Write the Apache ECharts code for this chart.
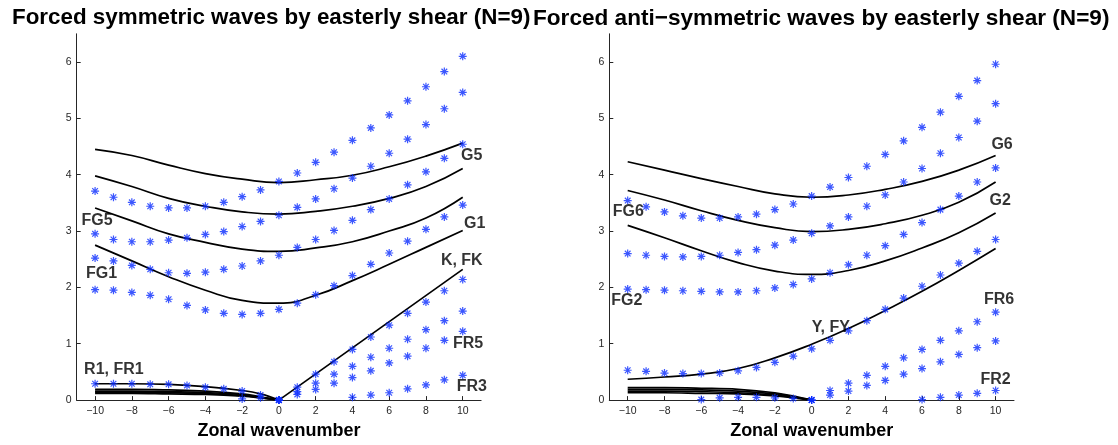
<!DOCTYPE html>
<html>
<head>
<meta charset="utf-8">
<script src="https://cdn.jsdelivr.net/npm/echarts@6/dist/echarts.min.js"></script>
<style>
html,body{margin:0;padding:0;background:#fff;}
#chart{width:1118px;height:445px;}
</style>
</head>
<body>
<div id="chart"></div>
<script>
// ---------- data ----------
const TITLE_LEFT = 'Forced symmetric waves by easterly shear (N=9)';
const TITLE_RIGHT = 'Forced anti\u2212symmetric waves by easterly shear (N=9)';
const X_NAME = 'Zonal wavenumber';
const X_TICKS = [-10, -8, -6, -4, -2, 0, 2, 4, 6, 8, 10];
const Y_TICKS = [0, 1, 2, 3, 4, 5, 6];

// wavenumbers for the forced (asterisk) solutions
const K_ALL = [-10, -9, -8, -7, -6, -5, -4, -3, -2, -1, 0, 1, 2, 3, 4, 5, 6, 7, 8, 9, 10];
const K_NEG = [-10, -9, -8, -7, -6, -5, -4, -3, -2, -1, 0];
const K_POS = [0, 1, 2, 3, 4, 5, 6, 7, 8, 9, 10];
// wavenumbers for the free-wave curves
const K_CURVE = [-10, -8, -6, -4, -2, 0, 2, 4, 6, 8, 10];
const K_ROSSBY = [-10, -8, -6, -4, -2, -1, 0];
const K_KELVIN = [0, 10];

// symmetric panel: forced solutions
const symA = [3.71, 3.60, 3.51, 3.44, 3.41, 3.41, 3.44, 3.51, 3.61, 3.73, 3.88, 4.03, 4.22, 4.40, 4.61, 4.83, 5.06, 5.31, 5.56, 5.83, 6.10];
const symB = [2.95, 2.85, 2.81, 2.81, 2.84, 2.88, 2.94, 2.99, 3.08, 3.17, 3.28, 3.42, 3.57, 3.75, 3.94, 4.15, 4.38, 4.63, 4.89, 5.17, 5.46];
const symC = [2.52, 2.47, 2.39, 2.32, 2.26, 2.25, 2.27, 2.32, 2.38, 2.47, 2.57, 2.71, 2.85, 3.01, 3.19, 3.38, 3.57, 3.82, 4.05, 4.29, 4.54];
const symD = [1.96, 1.95, 1.91, 1.86, 1.79, 1.68, 1.60, 1.54, 1.52, 1.54, 1.61, 1.72, 1.87, 2.03, 2.21, 2.41, 2.61, 2.82, 3.03, 3.25, 3.46];
const symR1 = [0.29, 0.29, 0.29, 0.28, 0.28, 0.26, 0.23, 0.20, 0.16, 0.09, 0.00];
const symR2 = [null, null, null, null, null, null, null, null, 0.02, 0.04, 0.00];
const symK = [0.00, 0.23, 0.46, 0.68, 0.90, 1.12, 1.33, 1.54, 1.74, 1.94, 2.14];
const symFR5a = [0.00, 0.15, 0.30, 0.46, 0.60, 0.76, 0.92, 1.08, 1.25, 1.41, 1.58];
const symFR5b = [0.00, 0.10, 0.19, 0.30, 0.40, 0.52, 0.66, 0.78, 0.92, 1.06, 1.22];
const symFR3 = [null, null, null, null, 0.05, 0.09, 0.13, 0.20, 0.27, 0.36, 0.44];

// symmetric panel: free-wave curves
const symG5 = [4.45, 4.34, 4.17, 4.02, 3.92, 3.86, 3.91, 3.99, 4.14, 4.33, 4.56];
const symG3 = [3.98, 3.79, 3.58, 3.44, 3.34, 3.30, 3.35, 3.44, 3.58, 3.79, 4.11];
const symG1b = [3.41, 3.18, 2.95, 2.80, 2.68, 2.64, 2.70, 2.81, 3.00, 3.23, 3.60];
const symG1 = [2.75, 2.47, 2.19, 1.95, 1.77, 1.72, 1.86, 2.12, 2.41, 2.71, 3.01];
const symKelvin = [0.00, 2.32];
const symRossby1 = [0.29, 0.29, 0.28, 0.24, 0.17, 0.11, 0.00];
const symRossby2 = [0.19, 0.19, 0.18, 0.16, 0.11, 0.06, 0.00];
const symRossby3 = [0.16, 0.16, 0.15, 0.135, 0.095, 0.05, 0.00];
const symRossby4 = [0.14, 0.14, 0.13, 0.115, 0.08, 0.045, 0.00];
const symRossby5 = [0.12, 0.12, 0.11, 0.10, 0.07, 0.04, 0.00];

// anti-symmetric panel: forced solutions
const antA = [3.54, 3.43, 3.34, 3.27, 3.23, 3.23, 3.25, 3.30, 3.38, 3.48, 3.62, 3.78, 3.95, 4.15, 4.36, 4.60, 4.84, 5.11, 5.39, 5.67, 5.96];
const antB = [2.60, 2.57, 2.55, 2.54, 2.55, 2.57, 2.62, 2.67, 2.75, 2.84, 2.96, 3.09, 3.25, 3.44, 3.64, 3.87, 4.11, 4.38, 4.66, 4.95, 5.26];
const antC = [1.97, 1.96, 1.95, 1.94, 1.93, 1.92, 1.92, 1.94, 1.99, 2.05, 2.15, 2.26, 2.40, 2.57, 2.74, 2.94, 3.15, 3.38, 3.62, 3.87, 4.12];
const antY = [0.53, 0.51, 0.48, 0.47, 0.47, 0.48, 0.52, 0.58, 0.67, 0.78, 0.91, 1.06, 1.23, 1.41, 1.61, 1.81, 2.02, 2.22, 2.43, 2.64, 2.85];
const antR = [null, null, null, null, 0.01, 0.04, 0.05, 0.05, 0.04, 0.03, 0.00];
const antFR6a = [0.00, 0.17, 0.30, 0.44, 0.60, 0.75, 0.90, 1.06, 1.23, 1.39, 1.56];
const antFR6b = [0.00, 0.09, 0.16, 0.26, 0.35, 0.46, 0.56, 0.68, 0.81, 0.93, 1.05];
const antFR2 = [null, null, null, null, null, null, 0.01, 0.05, 0.09, 0.12, 0.17];

// anti-symmetric panel: free-wave curves
const antG6 = [4.23, 4.08, 3.93, 3.79, 3.66, 3.60, 3.64, 3.74, 3.88, 4.08, 4.34];
const antG4 = [3.72, 3.55, 3.36, 3.19, 3.06, 2.99, 3.03, 3.13, 3.28, 3.51, 3.87];
const antG2 = [3.10, 2.88, 2.65, 2.44, 2.29, 2.23, 2.30, 2.47, 2.70, 2.97, 3.32];
const antYanai = [0.37, 0.41, 0.46, 0.56, 0.75, 0.99, 1.27, 1.59, 1.93, 2.30, 2.69];
const antRossby1 = [0.22, 0.22, 0.21, 0.19, 0.13, 0.07, 0.00];
const antRossby2 = [0.19, 0.19, 0.18, 0.16, 0.11, 0.06, 0.00];
const antRossby3 = [0.16, 0.16, 0.15, 0.13, 0.09, 0.05, 0.00];
const antRossby4 = [0.13, 0.13, 0.12, 0.11, 0.075, 0.04, 0.00];

// curve labels: [text, wavenumber, frequency]
const LABELS_LEFT = [['G5', 9.91, 4.34], ['G1', 10.07, 3.13], ['K, FK', 8.81, 2.48], ['FR5', 9.47, 1.01], ['FR3', 9.67, 0.24], ['FG5', -10.74, 3.18], ['FG1', -10.5, 2.24], ['R1, FR1', -10.6, 0.54]];
const LABELS_RIGHT = [['G6', 9.77, 4.54], ['G2', 9.67, 3.54], ['FG6', -10.81, 3.34], ['FG2', -10.9, 1.77], ['Y, FY', 0.0, 1.29], ['FR6', 9.36, 1.78], ['FR2', 9.17, 0.36]];

// ---------- chart ----------
const pairs = (xs, ys) => xs.map((x, i) => [x, ys[i]]).filter(p => p[1] !== null && p[1] !== undefined);
const ASTERISK = 'path://M-0.75,-5L0.75,-5L0.75,5L-0.75,5Z M-5,-0.75L5,-0.75L5,0.75L-5,0.75Z M-3.01,-4.07L4.07,3.01L3.01,4.07L-4.07,-3.01Z M-4.07,3.01L3.01,-4.07L4.07,-3.01L-3.01,4.07Z';
const BLUE = '#0a2cff';
const AX = '#262626';
const FONT = 'Liberation Sans, Arial, Helvetica, sans-serif';

const series = [];
function curve(idx, xs, ys, smooth) {
  series.push({ type: 'line', xAxisIndex: idx, yAxisIndex: idx, data: pairs(xs, ys), smooth: smooth, showSymbol: false, symbol: 'none', silent: true, z: 2,
    lineStyle: { color: '#000', width: 1.7 } });
}
function stars(idx, xs, ys) {
  series.push({ type: 'scatter', xAxisIndex: idx, yAxisIndex: idx, data: pairs(xs, ys), symbol: ASTERISK, symbolSize: 8, silent: true, z: 3,
    itemStyle: { color: BLUE } });
}
function labels(idx, list) {
  series.push({ type: 'scatter', xAxisIndex: idx, yAxisIndex: idx, silent: true, z: 4, symbol: 'circle', symbolSize: 0.1,
    itemStyle: { color: 'rgba(0,0,0,0)' },
    label: { show: true, position: 'right', distance: 0, formatter: p => p.name, color: '#000', fontFamily: FONT, fontWeight: 'bold', fontSize: 16 },
    data: list.map(l => ({ name: l[0], value: [l[1], l[2]] })) });
}

// left panel
[symG5, symG3, symG1b, symG1].forEach(c => curve(0, K_CURVE, c, 0.5));
curve(0, K_KELVIN, symKelvin, false);
[symRossby1, symRossby2, symRossby3, symRossby4, symRossby5].forEach(c => curve(0, K_ROSSBY, c, 0.4));
[symA, symB, symC, symD].forEach(s => stars(0, K_ALL, s));
[symR1, symR2].forEach(s => stars(0, K_NEG, s));
[symK, symFR5a, symFR5b, symFR3].forEach(s => stars(0, K_POS, s));
labels(0, LABELS_LEFT);

// right panel
[antG6, antG4, antG2, antYanai].forEach(c => curve(1, K_CURVE, c, 0.5));
[antRossby1, antRossby2, antRossby3, antRossby4].forEach(c => curve(1, K_ROSSBY, c, 0.4));
[antA, antB, antC, antY].forEach(s => stars(1, K_ALL, s));
stars(1, K_NEG, antR);
[antFR6a, antFR6b, antFR2].forEach(s => stars(1, K_POS, s));
labels(1, LABELS_RIGHT);

function xAxis(gi) {
  return { type: 'value', gridIndex: gi, min: -11, max: 11,
    name: X_NAME, nameLocation: 'middle', nameGap: 17,
    nameTextStyle: { color: '#000', fontFamily: FONT, fontWeight: 'bold', fontSize: 18 },
    axisLine: { show: true, onZero: false, lineStyle: { color: AX, width: 1 } },
    axisTick: { show: true, inside: true, length: 4, customValues: X_TICKS, lineStyle: { color: AX } },
    axisLabel: { customValues: X_TICKS, margin: 6, color: AX, fontFamily: FONT, fontSize: 10.5,
      formatter: v => (v < 0 ? '\u2212' + Math.abs(v) : String(v)) },
    splitLine: { show: false } };
}
function yAxis(gi) {
  return { type: 'value', gridIndex: gi, min: 0, max: 6.5,
    axisLine: { show: true, onZero: false, lineStyle: { color: AX, width: 1 } },
    axisTick: { show: true, inside: true, length: 4, customValues: Y_TICKS, lineStyle: { color: AX } },
    axisLabel: { customValues: Y_TICKS, margin: 5, color: AX, fontFamily: FONT, fontSize: 10.5 },
    splitLine: { show: false } };
}

const chart = echarts.init(document.getElementById('chart'), null, { renderer: 'canvas' });
chart.setOption({
  backgroundColor: '#fff',
  animation: false,
  grid: [
    { left: 76.7, top: 33.8, width: 404.4, height: 370.5 },
    { left: 609.3, top: 33.8, width: 404.7, height: 370.5 }
  ],
  xAxis: [xAxis(0), xAxis(1)],
  yAxis: [yAxis(0), yAxis(1)],
  graphic: [
    { type: 'text', left: 12, top: 7, style: { text: TITLE_LEFT, fill: '#000', font: 'bold 22.4px ' + FONT } },
    { type: 'text', left: 533, top: 7, style: { text: TITLE_RIGHT, fill: '#000', font: 'bold 22.6px ' + FONT } }
  ],
  series: series
});
</script>
</body>
</html>
